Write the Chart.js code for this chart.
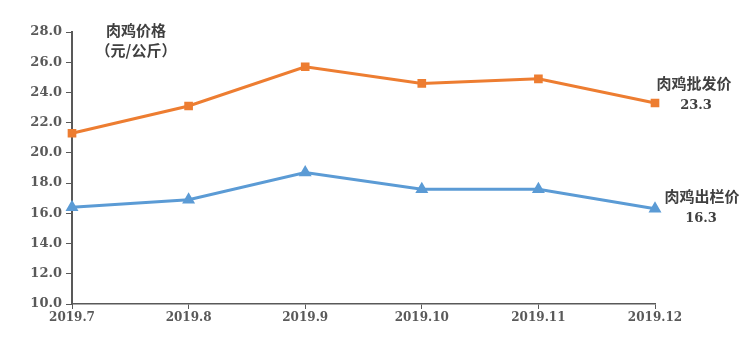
<!DOCTYPE html>
<html>
<head>
<meta charset="utf-8">
<script src="https://cdn.jsdelivr.net/npm/chart.js@4.4.0/dist/chart.umd.min.js"></script>
<style>
html,body{margin:0;padding:0;background:#fff;}
#wrap{width:750px;height:338px;position:relative;}
</style>
</head>
<body>
<div id="wrap"><canvas id="c" width="750" height="338"></canvas></div>
<script>
const categories = ['2019.7','2019.8','2019.9','2019.10','2019.11','2019.12'];
const wholesale = [21.3, 23.1, 25.7, 24.6, 24.9, 23.3];
const farmgate = [16.4, 16.9, 18.7, 17.6, 17.6, 16.3];
const wholesaleName = '肉鸡批发价';
const farmgateName = '肉鸡出栏价';
const yTitle = ['肉鸡价格', '（元/公斤）'];

const numFont = '"DejaVu Serif", "Liberation Serif", serif';
const cjkFont = '"Noto Sans CJK SC", sans-serif';

const labelPlugin = {
  id: 'labels',
  afterDraw(chart) {
    const ctx = chart.ctx;
    const xs = chart.scales.x, ys = chart.scales.y;
    ctx.save();
    ctx.fillStyle = '#404040';
    ctx.textAlign = 'center';
    ctx.textBaseline = 'middle';
    // y axis title
    ctx.font = 'bold 15px ' + cjkFont;
    ctx.fillText(yTitle[0], 136, 30);
    ctx.fillText(yTitle[1], 136, 50);
    // end labels
    const n = categories.length - 1;
    const xEnd = xs.getPixelForValue(n);
    const yW = ys.getPixelForValue(wholesale[n]);
    const yF = ys.getPixelForValue(farmgate[n]);
    ctx.font = 'bold 15px ' + cjkFont;
    ctx.fillText(wholesaleName, xEnd + 39, yW - 20);
    ctx.fillText(farmgateName, xEnd + 47, yF - 13);
    ctx.font = 'bold 13px ' + numFont;
    ctx.fillText(wholesale[n].toFixed(1), xEnd + 41, yW + 3);
    ctx.fillText(farmgate[n].toFixed(1), xEnd + 46, yF + 10);
    ctx.restore();
  }
};

new Chart(document.getElementById('c'), {
  type: 'line',
  data: {
    labels: categories,
    datasets: [
      {
        label: wholesaleName,
        data: wholesale,
        borderColor: '#ED7D31',
        backgroundColor: '#ED7D31',
        borderWidth: 3,
        pointStyle: 'rect',
        pointRadius: 4,
        pointHoverRadius: 4,
        tension: 0
      },
      {
        label: farmgateName,
        data: farmgate,
        borderColor: '#5B9BD5',
        backgroundColor: '#5B9BD5',
        borderWidth: 3,
        pointStyle: 'triangle',
        pointRadius: 4.5,
        pointHoverRadius: 4.5,
        tension: 0
      }
    ]
  },
  options: {
    responsive: false,
    animation: false,
    events: [],
    layout: { padding: { left: 0, right: 95, top: 32, bottom: 0 } },
    plugins: { legend: { display: false }, tooltip: { enabled: false } },
    scales: {
      x: {
        offset: false,
        grid: {
          display: true,
          drawOnChartArea: false,
          drawTicks: true,
          tickLength: 5,
          color: '#595959',
          offset: false
        },
        border: { display: true, color: '#595959', width: 1.5 },
        ticks: {
          color: '#595959',
          font: { family: numFont, size: 12, weight: 'bold' },
          padding: 2,
          maxRotation: 0,
          autoSkip: false
        },
        afterFit(s) { s.height = 34; }
      },
      y: {
        min: 10,
        max: 28,
        grid: {
          display: true,
          drawOnChartArea: false,
          drawTicks: true,
          tickLength: 6,
          color: '#595959'
        },
        border: { display: true, color: '#595959', width: 2 },
        ticks: {
          stepSize: 2,
          color: '#595959',
          font: { family: numFont, size: 13, weight: 'bold' },
          padding: 4,
          callback: v => Number(v).toFixed(1)
        },
        afterFit(s) { s.width = 72; }
      }
    }
  },
  plugins: [labelPlugin]
});
</script>
</body>
</html>
